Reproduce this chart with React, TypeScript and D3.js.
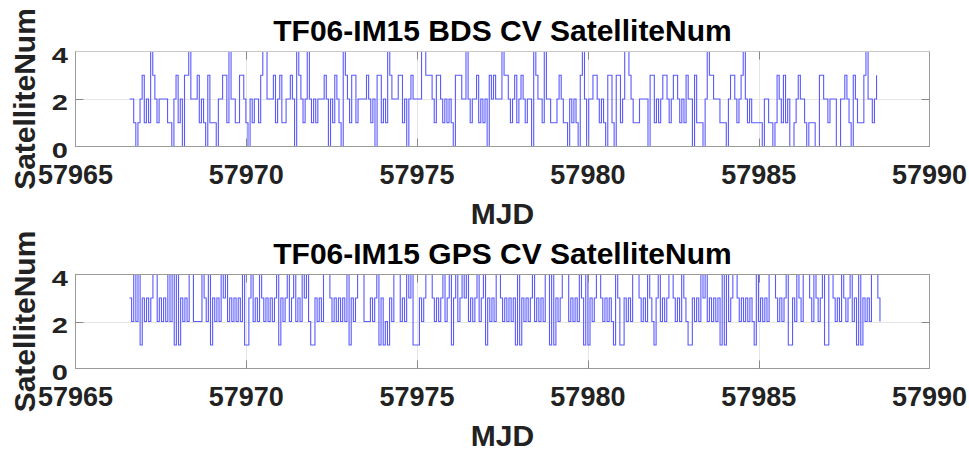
import * as d3 from 'd3';
import { useEffect, useRef } from 'react';

// MJD axis ticks and SatelliteNum ticks
const xTicks = [57965, 57970, 57975, 57980, 57985, 57990];
const yTicks = [0, 2, 4];

// BDS common-view satellite count
const bdsStart = 57966.58;
const bdsEnd = 57988.45;
const bdsCounts = [
  2, 2, 1, 0, 1, 2, 3, 1, 2, 1,
  4, 3, 2, 1, 2, 2, 2, 2, 1, 1,
  0, 2, 3, 1, 2, 0, 3, 3, 4, 2,
  2, 2, 3, 1, 2, 1, 0, 3, 1, 1,
  1, 0, 2, 2, 3, 3, 1, 4, 2, 2,
  1, 1, 3, 3, 2, 1, 0, 2, 1, 2,
  2, 1, 3, 4, 4, 2, 2, 2, 3, 1,
  2, 3, 1, 1, 2, 2, 3, 2, 0, 4,
  3, 2, 1, 2, 4, 2, 1, 2, 1, 2,
  2, 2, 3, 2, 0, 2, 1, 3, 2, 1,
  0, 4, 3, 2, 1, 3, 3, 1, 2, 2,
  2, 2, 3, 2, 1, 2, 0, 3, 3, 1,
  2, 1, 4, 3, 2, 2, 2, 3, 3, 1,
  2, 0, 2, 3, 2, 2, 2, 2, 4, 4,
  3, 3, 3, 2, 1, 3, 3, 2, 1, 2,
  1, 2, 1, 0, 3, 3, 3, 2, 2, 4,
  2, 1, 2, 2, 3, 1, 2, 1, 2, 0,
  3, 2, 3, 2, 2, 2, 4, 3, 3, 2,
  1, 2, 3, 1, 2, 3, 2, 1, 2,
  2, 0, 4, 3, 2, 2, 1, 4, 2, 2,
  1, 1, 1, 2, 3, 2, 1, 1, 0, 2,
  1, 2, 1, 0, 3, 4, 2, 0, 2, 2,
  3, 3, 2, 1, 2, 1, 0, 3, 3, 1,
  0, 3, 3, 1, 2, 4, 4, 3, 2, 1,
  1, 1, 2, 2, 2, 2, 0, 3, 3, 1,
  2, 1, 2, 3, 3, 2, 1, 2, 3, 3,
  2, 1, 2, 1, 3, 2, 2, 0, 3, 1,
  1, 1, 0, 2, 4, 3, 3, 2, 2, 2,
  1, 1, 1, 0, 2, 3, 3, 2, 1, 2,
  3, 4, 2, 1, 2, 1, 1, 1, 1, 1,
  0, 2, 2, 1, 1, 0, 1, 3, 2, 1,
  3, 1, 2, 0, 0, 1, 2, 3, 2, 2,
  1, 0, 1, 1, 1, 0, 0, 3, 3, 2,
  2, 1, 2, 2, 2, 0, 0, 2, 2, 3,
  2, 1, 0, 3, 2, 1, 1, 1, 3, 4,
  2, 2, 1, 2, 3,
];

// GPS common-view satellite count
const gpsStart = 57966.58;
const gpsEnd = 57988.55;
const gpsCounts = [
  3, 2, 4, 2, 4, 1, 3, 2, 3, 2,
  3, 4, 4, 2, 3, 2, 3, 2, 4, 2,
  4, 1, 4, 1, 3, 2, 3, 2, 4, 4,
  2, 2, 2, 2, 4, 3, 2, 4, 1, 3,
  2, 3, 2, 4, 3, 4, 2, 3, 2, 3,
  2, 3, 2, 4, 1, 1, 3, 4, 2, 3,
  2, 4, 3, 2, 3, 2, 3, 2, 3, 4,
  1, 3, 2, 3, 4, 2, 3, 4, 2, 3,
  2, 4, 3, 4, 2, 1, 1, 3, 2, 3,
  2, 4, 4, 4, 3, 2, 3, 2, 3, 2,
  3, 2, 4, 1, 3, 2, 3, 4, 4, 4,
  2, 2, 2, 3, 2, 3, 4, 1, 3, 1,
  2, 1, 3, 2, 4, 4, 4, 2, 3, 2,
  4, 3, 4, 1, 1, 1, 3, 2, 3, 4,
  4, 4, 3, 2, 3, 2, 3, 4, 2, 3,
  4, 1, 3, 4, 2, 3, 4, 3, 4, 2,
  3, 2, 3, 4, 2, 3, 4, 1, 3, 2,
  3, 2, 4, 4, 3, 2, 3, 2, 3, 2,
  3, 1, 4, 1, 3, 2, 3, 2, 3, 4,
  2, 3, 2, 3, 2, 4, 4, 1, 4, 1,
  3, 2, 3, 4, 4, 4, 2, 3, 2, 3,
  2, 4, 3, 1, 4, 1, 3, 2, 3, 4,
  4, 3, 2, 3, 2, 3, 2, 1, 4, 3,
  1, 1, 3, 2, 3, 2, 4, 4, 4, 3,
  2, 3, 2, 4, 3, 2, 1, 3, 4, 2,
  3, 2, 3, 4, 4, 3, 2, 3, 2, 4,
  3, 2, 1, 1, 3, 2, 3, 2, 4, 3,
  4, 2, 3, 2, 3, 2, 3, 1, 4, 1,
  4, 2, 3, 4, 4, 3, 2, 3, 2, 3,
  2, 3, 2, 1, 4, 2, 3, 2, 3, 2,
  4, 4, 4, 3, 2, 3, 2, 3, 4, 1,
  1, 3, 2, 4, 3, 2, 4, 4, 4, 3,
  2, 4, 3, 2, 3, 4, 1, 1, 4, 4,
  3, 2, 3, 2, 4, 3, 2, 3, 4, 2,
  3, 1, 4, 1, 3, 2, 3, 2, 4, 4,
  4, 3, 2,
];

const panels = [
  { title: 'TF06-IM15 BDS CV SatelliteNum', counts: bdsCounts, start: bdsStart, end: bdsEnd, top: 51.5, bottom: 146.5 },
  { title: 'TF06-IM15 GPS CV SatelliteNum', counts: gpsCounts, start: gpsStart, end: gpsEnd, top: 274.5, bottom: 368.5 },
];

export default function App() {
  const ref = useRef<SVGSVGElement>(null);

  useEffect(() => {
    const width = 969;
    const height = 450;
    const left = 75.5;
    const right = 929.5;
    const font = '"Liberation Sans", Arial, Helvetica, sans-serif';
    const boxColor = '#9a9a9a';
    const gridColor = '#e6e6e6';
    const textColor = '#222222';

    const svg = d3.select(ref.current);
    svg.selectAll('*').remove();
    svg.attr('width', width).attr('height', height);

    svg.append('rect').attr('width', width).attr('height', height).attr('fill', 'white');

    const x = d3.scaleLinear().domain([57965, 57990]).range([left, right]);

    panels.forEach((p, k) => {
      const y = d3.scaleLinear().domain([0, 4]).range([p.bottom, p.top]);
      const g = svg.append('g');

      // grid lines
      g.selectAll('line.xgrid')
        .data(xTicks.slice(1, -1))
        .join('line')
        .attr('x1', d => Math.round(x(d)) + 0.5)
        .attr('x2', d => Math.round(x(d)) + 0.5)
        .attr('y1', p.top)
        .attr('y2', p.bottom)
        .attr('stroke', gridColor)
        .attr('stroke-width', 1);

      g.selectAll('line.ygrid')
        .data(yTicks.slice(1, -1))
        .join('line')
        .attr('x1', left)
        .attr('x2', right)
        .attr('y1', d => Math.round(y(d)) + 0.5)
        .attr('y2', d => Math.round(y(d)) + 0.5)
        .attr('stroke', gridColor)
        .attr('stroke-width', 1);

      // data line
      const step = (p.end - p.start) / (p.counts.length - 1);
      const pts: [number, number][] = p.counts.map((v, i) => [p.start + i * step, v]);
      const line = d3
        .line<[number, number]>()
        .x(d => x(d[0]))
        .y(d => y(d[1]))
        .curve(d3.curveStepAfter);

      g.append('path')
        .attr('d', line(pts))
        .attr('fill', 'none')
        .attr('stroke', '#5a5aff')
        .attr('stroke-width', 1.1);

      // box
      g.append('rect')
        .attr('x', left)
        .attr('y', p.top)
        .attr('width', right - left)
        .attr('height', p.bottom - p.top)
        .attr('fill', 'none')
        .attr('stroke', boxColor)
        .attr('stroke-width', 1);
      if (k === 0) {
        g.append('line')
          .attr('x1', left).attr('x2', right)
          .attr('y1', p.top).attr('y2', p.top)
          .attr('stroke', '#c8c8c8');
      }

      // inside tick marks
      const tickLen = 8;
      g.selectAll('line.xtickB')
        .data(xTicks.slice(1, -1))
        .join('line')
        .attr('x1', d => Math.round(x(d)) + 0.5)
        .attr('x2', d => Math.round(x(d)) + 0.5)
        .attr('y1', p.bottom)
        .attr('y2', p.bottom - tickLen)
        .attr('stroke', '#888');
      g.selectAll('line.xtickT')
        .data(xTicks.slice(1, -1))
        .join('line')
        .attr('x1', d => Math.round(x(d)) + 0.5)
        .attr('x2', d => Math.round(x(d)) + 0.5)
        .attr('y1', p.top)
        .attr('y2', p.top + tickLen)
        .attr('stroke', '#888');
      g.selectAll('line.ytickL')
        .data(yTicks.slice(1, -1))
        .join('line')
        .attr('x1', left)
        .attr('x2', left + tickLen)
        .attr('y1', d => Math.round(y(d)) + 0.5)
        .attr('y2', d => Math.round(y(d)) + 0.5)
        .attr('stroke', '#888');
      g.selectAll('line.ytickR')
        .data(yTicks.slice(1, -1))
        .join('line')
        .attr('x1', right - tickLen)
        .attr('x2', right)
        .attr('y1', d => Math.round(y(d)) + 0.5)
        .attr('y2', d => Math.round(y(d)) + 0.5)
        .attr('stroke', '#888');

      // x tick labels
      g.selectAll('text.xlab')
        .data(xTicks)
        .join('text')
        .attr('x', d => x(d))
        .attr('y', p.bottom + 37)
        .attr('text-anchor', 'middle')
        .attr('font-family', font)
        .attr('font-weight', 'bold')
        .attr('font-size', 27)
        .attr('fill', textColor)
        .text(d => String(d));

      // y tick labels (rendered a bit squat, like the reference)
      g.selectAll('text.ylab')
        .data(yTicks)
        .join('text')
        .attr('transform', d => `translate(68,${y(d) + 11}) scale(1,0.76)`)
        .attr('text-anchor', 'end')
        .attr('font-family', font)
        .attr('font-weight', 'bold')
        .attr('font-size', 29)
        .attr('fill', textColor)
        .text(d => String(d));

      // title
      g.append('text')
        .attr('x', (left + right) / 2)
        .attr('y', p.top - 11)
        .attr('text-anchor', 'middle')
        .attr('font-family', font)
        .attr('font-weight', 'bold')
        .attr('font-size', 30)
        .attr('fill', '#000')
        .text(p.title);

      // x axis label
      g.append('text')
        .attr('x', (left + right) / 2)
        .attr('y', p.bottom + 77)
        .attr('text-anchor', 'middle')
        .attr('font-family', font)
        .attr('font-weight', 'bold')
        .attr('font-size', 30)
        .attr('fill', textColor)
        .text('MJD');

      // y axis label
      g.append('text')
        .attr('transform', `translate(35,${(p.top + p.bottom) / 2}) rotate(-90)`)
        .attr('text-anchor', 'middle')
        .attr('font-family', font)
        .attr('font-weight', 'bold')
        .attr('font-size', 30)
        .attr('fill', textColor)
        .text('SatelliteNum');
    });
  }, []);

  return (
    <div style={{ position: 'absolute', left: 0, top: 0, width: 969, height: 450, background: 'white' }}>
      <svg ref={ref} style={{ display: 'block' }}></svg>
    </div>
  );
}
